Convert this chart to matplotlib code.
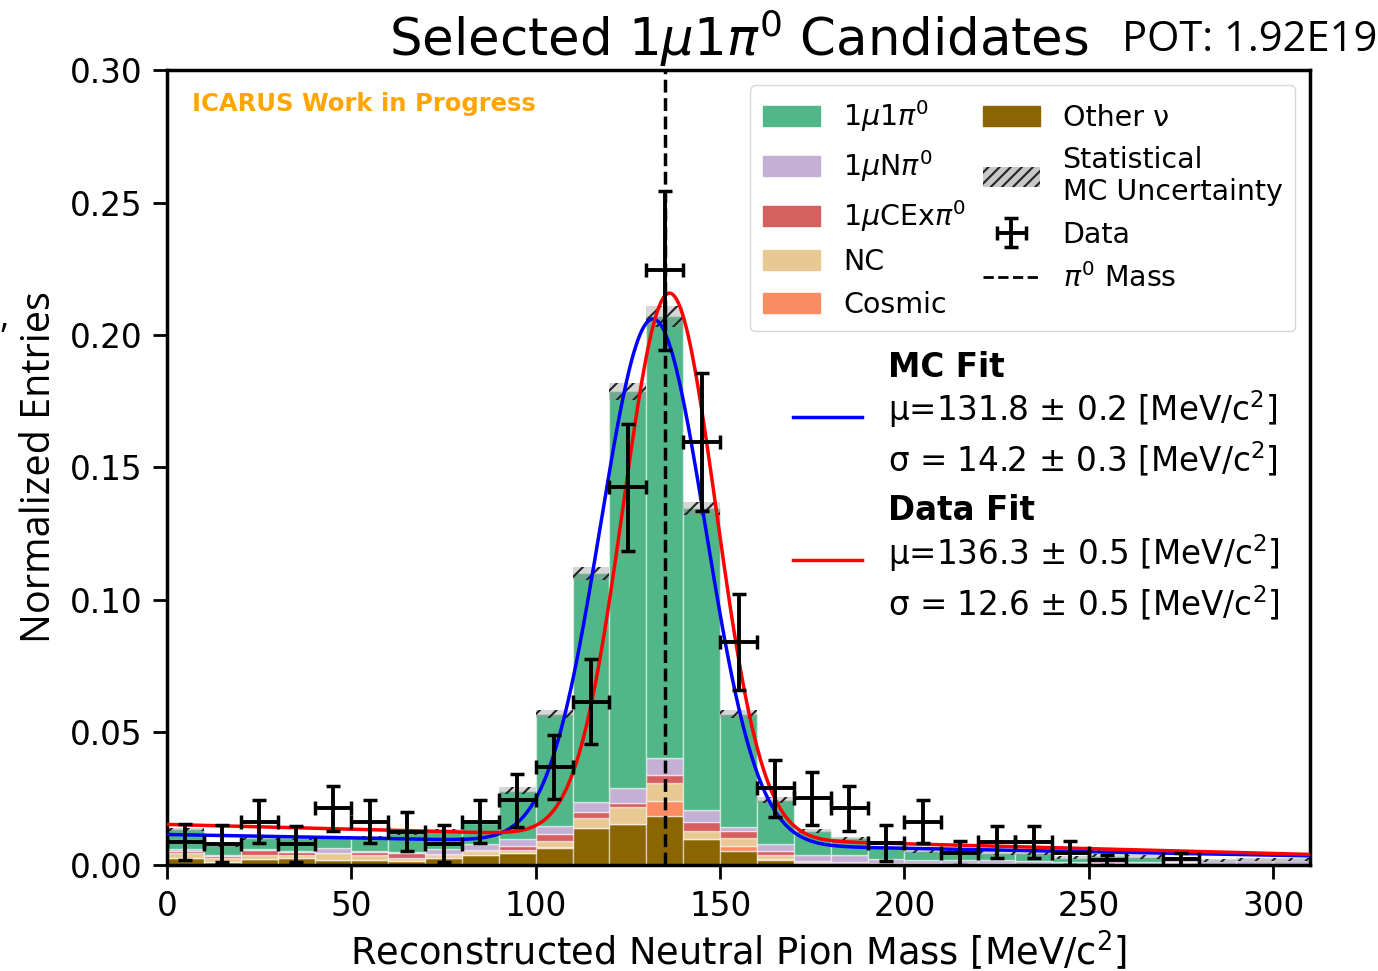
import numpy as np
import matplotlib.pyplot as plt
from matplotlib.patches import Patch
from matplotlib.lines import Line2D

# binning (MeV/c^2)
bin_edges = np.arange(0, 311, 10)
bin_lo = bin_edges[:-1]
bin_mid = bin_lo + 5

# stacked MC components, bottom -> top (normalized entries per bin)
other_nu = [0.0025, 0.0013, 0.0023, 0.0025, 0.0019, 0.0019, 0.0015, 0.0025, 0.0038, 0.0044,
            0.0063, 0.0141, 0.0154, 0.0183, 0.0098, 0.0053, 0.0019, 0.0006, 0.0006, 0.0003,
            0.0003, 0.0002, 0.0002, 0.0002, 0.0002, 0.0002, 0.0002, 0.0002, 0.0001, 0.0002, 0.0002]
cosmic = [0, 0, 0, 0, 0, 0, 0, 0, 0, 0,
          0.0003, 0, 0, 0.0059, 0, 0.0020, 0.0003, 0, 0, 0,
          0, 0, 0, 0, 0, 0, 0, 0, 0, 0, 0]
nc = [0.0019, 0.0013, 0.0015, 0.0013, 0.0025, 0.0019, 0.0010, 0.0013, 0.0013, 0.0013,
      0.0023, 0.0038, 0.0063, 0.0067, 0.0030, 0.0028, 0.0015, 0.0006, 0.0003, 0.0003,
      0.0003, 0.0003, 0.0003, 0.0002, 0.0002, 0.0003, 0.0002, 0.0008, 0.0002, 0.0002, 0.0002]
cex = [0.0010, 0.0009, 0.0019, 0.0010, 0.0003, 0.0010, 0.0021, 0.0003, 0.0006, 0.0016,
       0.0028, 0.0020, 0.0016, 0.0029, 0.0035, 0.0028, 0.0016, 0.0002, 0.0002, 0.0002,
       0.0002, 0.0002, 0.0002, 0.0001, 0.0001, 0.0001, 0.0001, 0.0001, 0.0001, 0.0001, 0.0001]
npi = [0.0006, 0.0003, 0.0002, 0.0005, 0.0016, 0.0006, 0.0002, 0.0019, 0.0021, 0.0025,
       0.0029, 0.0040, 0.0057, 0.0065, 0.0044, 0.0013, 0.0028, 0.0023, 0.0025, 0.0015,
       0.0012, 0.0010, 0.0010, 0.0010, 0.0008, 0.0015, 0.0008, 0.0008, 0.0010, 0.0012, 0.0012]
sig = [0.0075, 0.0037, 0.0041, 0.0047, 0.0042, 0.0049, 0.0072, 0.0068, 0.0082, 0.0182,
       0.0423, 0.0861, 0.1497, 0.1667, 0.1139, 0.0428, 0.0164, 0.0091, 0.0064, 0.0043,
       0.0032, 0.0033, 0.0028, 0.0030, 0.0015, 0.0014, 0.0017, 0.0006, 0.0004, 0.0005, 0.0005]
mc_err = [0.0006, 0.0006, 0.0006, 0.0006, 0.0006, 0.0006, 0.0006, 0.0006, 0.0006, 0.0013,
          0.0016, 0.0025, 0.0032, 0.0038, 0.0025, 0.0016, 0.0010, 0.0008, 0.0006, 0.0006,
          0.0006, 0.0006, 0.0006, 0.0006, 0.0006, 0.0006, 0.0006, 0.0006, 0.0006, 0.0006, 0.0006]

# data (nan = empty bin)
data_y = [0.0085, 0.0081, 0.0164, 0.0080, 0.0214, 0.0164, 0.0126, 0.0081, 0.0164, 0.0245,
          0.0369, 0.0616, 0.1426, 0.2245, 0.1597, 0.0842, 0.0289, 0.0252, 0.0214, 0.0082,
          0.0164, 0.0044, 0.0088, 0.0088, 0.0044, 0.0019, np.nan, 0.0021, np.nan, np.nan, np.nan]
data_err = [0.0068, 0.0068, 0.0082, 0.0068, 0.0085, 0.0082, 0.0075, 0.0068, 0.0082, 0.0100,
            0.0120, 0.0160, 0.0240, 0.0300, 0.0260, 0.0180, 0.0107, 0.0100, 0.0085, 0.0068,
            0.0082, 0.0045, 0.0060, 0.0060, 0.0045, 0.0020, np.nan, 0.0024, np.nan, np.nan, np.nan]

# fit results (gaussian + linear background)
mc_fit = dict(mu=131.8, sigma=14.2, amp=0.198, bg0=0.0115, slope=-2.6e-5)
data_fit = dict(mu=136.3, sigma=12.6, amp=0.2055, bg0=0.0153, slope=-3.65e-5)
pi0_mass = 134.98

labels = ['Other ν', 'Cosmic', 'NC', r'1$\mu$CEx$\pi^0$', r'1$\mu$N$\pi^0$', r'1$\mu$1$\pi^0$']
colors = ['#8b6600', '#fc8d62', '#e8c994', '#d65f5f', '#c5b0d5', '#52b788']
comps = [other_nu, cosmic, nc, cex, npi, sig]

def fit_curve(x, p):
    return p['bg0'] + p['slope'] * x + p['amp'] * np.exp(-0.5 * ((x - p['mu']) / p['sigma'])**2)

plt.rcParams['hatch.linewidth'] = 1.5
fig = plt.figure(figsize=(13.78, 9.71), dpi=100)
ax = fig.add_axes([0.1212, 0.1092, 0.8295, 0.8187])

bottom = np.zeros(len(bin_lo))
for vals, c in zip(comps, colors):
    vals = np.array(vals)
    ax.bar(bin_lo, vals, width=10, bottom=bottom, align='edge', color=c,
           edgecolor=(1, 1, 1, 0.5), linewidth=1)
    bottom += vals
total = bottom
err = np.array(mc_err)
ax.bar(bin_lo, 2 * err, width=10, bottom=total - err, align='edge',
       facecolor=(0.6, 0.6, 0.6, 0.4), hatch='//', edgecolor='#222222', linewidth=0)

xs = np.linspace(0, 310, 600)
ax.plot(xs, fit_curve(xs, mc_fit), color='blue', lw=2.5, zorder=4)
ax.plot(xs, fit_curve(xs, data_fit), color='red', lw=2.5, zorder=4)

ax.axvline(pi0_mass, color='black', ls='--', lw=2.5, zorder=5)

eb = ax.errorbar(bin_mid, data_y, xerr=5, yerr=data_err, fmt='none', ecolor='black',
                 elinewidth=2.8, capsize=5, capthick=2.5, zorder=6)

ax.set_xlim(0, 310)
ax.set_ylim(0, 0.30)
ax.set_xticks(np.arange(0, 301, 50))
ax.set_yticks(np.arange(0, 0.31, 0.05))
ax.yaxis.set_major_formatter(plt.FormatStrFormatter('%.2f'))
ax.tick_params(labelsize=23.5, length=10, width=2, pad=8)
for s in ax.spines.values():
    s.set_linewidth(2.5)

ax.set_xlabel('Reconstructed Neutral Pion Mass [MeV/c$^2$]', fontsize=26.5, labelpad=4)
ax.set_ylabel('Normalized Entries', fontsize=28.5, family='Open Sans')
ax.yaxis.set_label_coords(-0.094, 0.5)
ax.set_title(r'Selected 1$\mu$1$\pi^0$ Candidates', fontsize=37, pad=10)
fig.text(0.814, 0.9588, 'POT: 1.92E19', fontsize=30, family='Open Sans', va='center')
fig.text(0.0, 0.672, ',', fontsize=26, family='Open Sans', va='center', ha='left')

ax.text(0.022, 0.957, 'ICARUS Work in Progress', transform=ax.transAxes, color='orange',
        fontsize=17.5, fontweight='bold', va='center')

# legend
handles = [Patch(color=colors[5]), Patch(color=colors[4]), Patch(color=colors[3]),
           Patch(color=colors[2]), Patch(color=colors[1]), Patch(color=colors[0]),
           Patch(facecolor='#c8c8c8', hatch='///', edgecolor='#222222', linewidth=0),
           eb, Line2D([], [], color='black', ls='--', lw=2)]
leg_labels = [labels[5], labels[4], labels[3], labels[2], labels[1], labels[0],
              'Statistical\nMC Uncertainty', 'Data', r'$\pi^0$ Mass']
ax.legend(handles, leg_labels, ncol=2, loc='upper right', bbox_to_anchor=(0.987, 0.981),
          borderaxespad=0, fontsize=20.5, handlelength=2.0, handletextpad=0.8,
          columnspacing=0.6, labelspacing=0.5, borderpad=0.45)

# fit results block
fx = 0.631
fs = 23.5
ax.text(fx, 0.626, 'MC Fit', transform=ax.transAxes, fontsize=fs, fontweight='bold', va='center')
ax.plot([0.548, 0.608], [0.5635, 0.5635], transform=ax.transAxes, color='blue', lw=2.5)
ax.text(fx, 0.5736, 'μ=131.8 ± 0.2 [MeV/c$^2$]', transform=ax.transAxes, fontsize=fs, va='center')
ax.text(fx, 0.5107, 'σ = 14.2 ± 0.3 [MeV/c$^2$]', transform=ax.transAxes, fontsize=fs, va='center')
ax.text(fx, 0.4465, 'Data Fit', transform=ax.transAxes, fontsize=fs, fontweight='bold', va='center')
ax.plot([0.548, 0.608], [0.3836, 0.3836], transform=ax.transAxes, color='red', lw=2.5)
ax.text(fx, 0.3925, 'μ=136.3 ± 0.5 [MeV/c$^2$]', transform=ax.transAxes, fontsize=fs, va='center')
ax.text(fx, 0.3296, 'σ = 12.6 ± 0.5 [MeV/c$^2$]', transform=ax.transAxes, fontsize=fs, va='center')

fig.savefig('out.png', dpi=100)
